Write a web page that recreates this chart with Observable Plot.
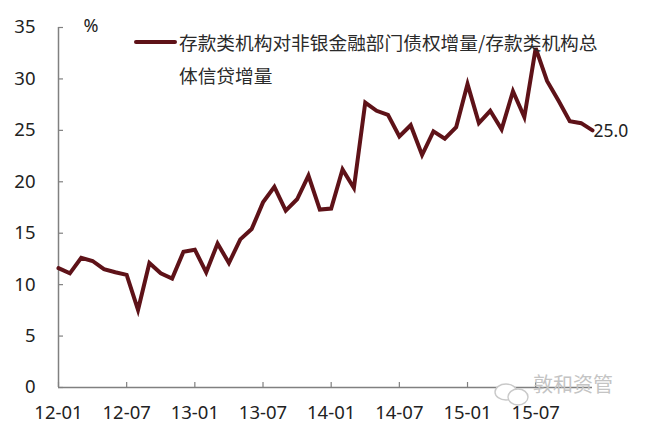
<!DOCTYPE html>
<html>
<head>
<meta charset="utf-8">
<script src="https://cdn.jsdelivr.net/npm/d3@7"></script>
<script src="https://cdn.jsdelivr.net/npm/@observablehq/plot@0.6"></script>
<style>
html,body{margin:0;padding:0;background:#fff;}
#wrap{position:relative;width:650px;height:426px;overflow:hidden;font-family:"Noto Sans","Noto Sans CJK SC",sans-serif;color:#222;}
.leg{position:absolute;font-family:"Noto Sans CJK SC",sans-serif;font-size:18.7px;line-height:33px;color:#2a2a2a;white-space:nowrap;}
.swatch{position:absolute;left:134px;top:40px;width:43px;height:4px;border-radius:2px;background:#5e1218;}
.wm{position:absolute;left:533px;top:371px;font-family:"Noto Sans CJK SC",sans-serif;font-size:20px;line-height:26px;color:#c4c4c4;white-space:nowrap;}
.wmi{position:absolute;left:493px;top:383px;}
</style>
</head>
<body>
<div id="wrap"></div>
<script>
const months = [
"12-01","12-02","12-03","12-04","12-05","12-06","12-07","12-08","12-09","12-10","12-11","12-12",
"13-01","13-02","13-03","13-04","13-05","13-06","13-07","13-08","13-09","13-10","13-11","13-12",
"14-01","14-02","14-03","14-04","14-05","14-06","14-07","14-08","14-09","14-10","14-11","14-12",
"15-01","15-02","15-03","15-04","15-05","15-06","15-07","15-08","15-09","15-10","15-11","15-12"];
const values = [
11.6,11.1,12.6,12.3,11.5,11.2,10.95,7.55,12.1,11.1,10.6,13.2,
13.4,11.2,14.0,12.1,14.4,15.4,18.0,19.5,17.2,18.3,20.6,17.3,
17.4,21.2,19.4,27.7,26.9,26.5,24.4,25.5,22.6,24.9,24.2,25.3,
29.5,25.7,26.9,25.1,28.8,26.3,33.0,29.8,27.9,25.9,25.7,25.0];
const xTicks = ["12-01","12-07","13-01","13-07","14-01","14-07","15-01","15-07"];
const yTicks = [0,5,10,15,20,25,30,35];
const legendLines = ["存款类机构对非银金融部门债权增量/存款类机构总","体信贷增量"];
const unit = "%";
const lastLabel = "25.0";

const rows = months.map((m,i)=>({m,v:values[i]}));
const axisColor = "#808080";
const lineColor = "#5e1218";

const chart = Plot.plot({
  width:650, height:426,
  marginLeft:58, marginRight:58, marginTop:27, marginBottom:39,
  style:{background:"#fff",fontFamily:'"Noto Sans",sans-serif',fontSize:"18.5px",color:"#222"},
  x:{type:"point",domain:months,padding:0,round:false,label:null},
  y:{domain:[0,35],label:null},
  marks:[
    Plot.ruleX([months[0]],{stroke:axisColor,strokeWidth:1.5}),
    Plot.ruleY([0],{stroke:axisColor,strokeWidth:1.5}),
    Plot.axisY({ticks:yTicks,tickSize:-5,tickPadding:28,stroke:axisColor,strokeWidth:1.2,fill:"#222",label:null,fontSize:18.5}),
    Plot.axisX({ticks:xTicks,tickSize:-5,tickPadding:23,stroke:axisColor,strokeWidth:1.2,fill:"#222",label:null,fontSize:18.5}),
    Plot.line(rows,{x:"m",y:"v",stroke:lineColor,strokeWidth:4,strokeLinejoin:"miter",strokeMiterlimit:4}),
    Plot.text(rows.slice(-1),{x:"m",y:"v",text:()=>lastLabel,textAnchor:"start",dx:1,dy:1,fill:"#222",fontSize:17.5}),
    Plot.text([unit],{frameAnchor:"top-left",dx:25,dy:-1,fontSize:18,fill:"#222",lineAnchor:"middle"})
  ]
});
const wrap = document.getElementById("wrap");
wrap.appendChild(chart);
chart.style.display="block";

const sw=document.createElement("div");sw.className="swatch";wrap.appendChild(sw);
legendLines.forEach((t,i)=>{
  const d=document.createElement("div");d.className="leg";d.textContent=t;
  d.style.left="179px";d.style.top=(25+i*33)+"px";wrap.appendChild(d);
});
const wm=document.createElement("div");wm.className="wm";wm.textContent="敦和资管";wrap.appendChild(wm);
const ic=document.createElement("div");ic.className="wmi";
ic.innerHTML='<svg width="38" height="24" fill="#fff" stroke="#c9c9c9" stroke-width="1.4"><ellipse cx="13" cy="9" rx="11" ry="8"/><ellipse cx="25" cy="14" rx="10" ry="8"/></svg>';
wrap.appendChild(ic);
</script>
</body>
</html>
